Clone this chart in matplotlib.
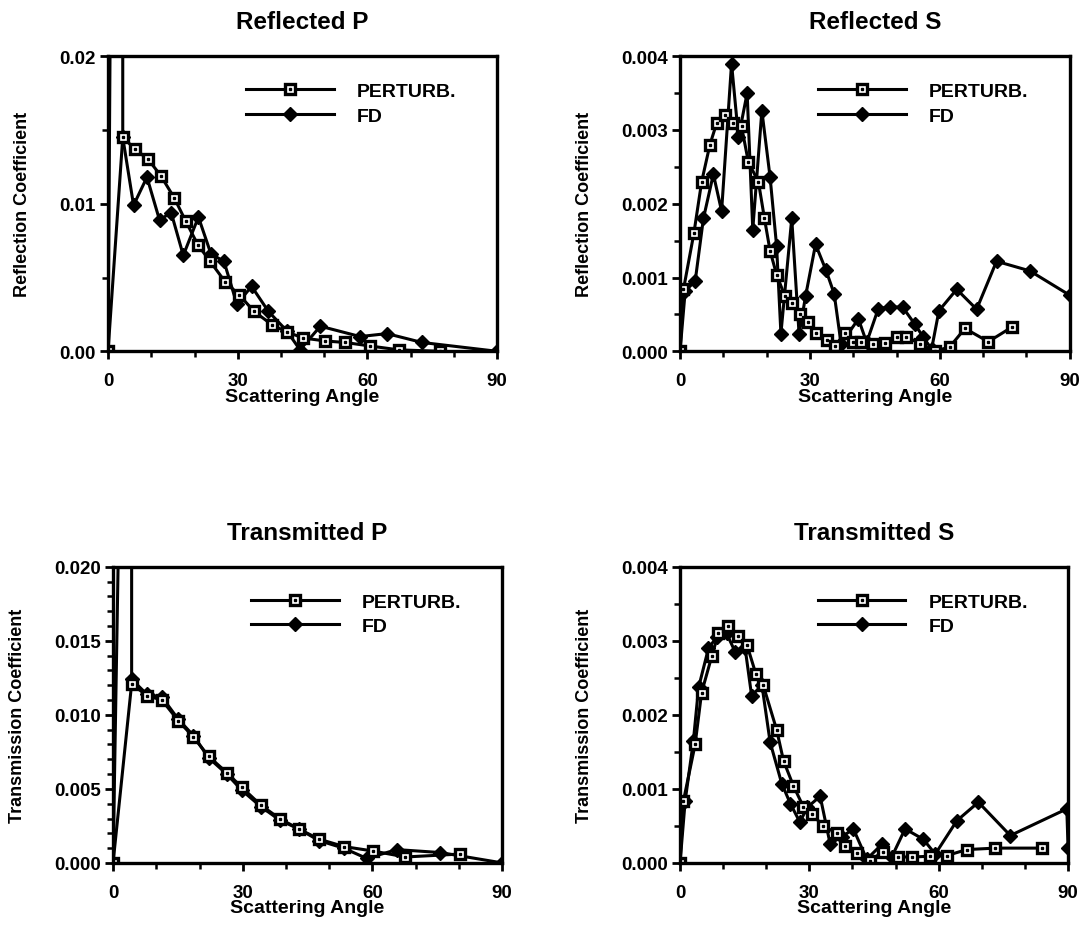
import matplotlib.pyplot as plt
from matplotlib.ticker import MultipleLocator, FormatStrFormatter

plt.rcParams['font.family'] = ['Liberation Sans', 'DejaVu Sans']
plt.rcParams['font.weight'] = 'bold'

# Reflected P
rp_pert_x = [0, 3.4, 6.25, 9.3, 12.2, 15.3, 18.0, 20.8, 23.6, 27.1, 30.4, 33.8, 37.9, 41.4, 45.2, 50.2, 54.8, 60.6, 67.2, 76.8]
rp_pert_y = [0, 0.0145, 0.0137, 0.0130, 0.0119, 0.0104, 0.0088, 0.0072, 0.0061, 0.0047, 0.0038, 0.0027, 0.0018, 0.0013, 0.0009, 0.0007, 0.0006, 0.00036, 0.0001, 0.0]
rp_fd_x = [0, 3.4, 3.4, 5.9, 9.0, 11.9, 14.6, 17.4, 20.9, 23.8, 26.8, 29.8, 33.2, 37.1, 41.3, 44.4, 49.1, 58.3, 64.5, 72.6, 90]
rp_fd_y = [0, 0.15, 0.0145, 0.0099, 0.0118, 0.0089, 0.0094, 0.0065, 0.0091, 0.0066, 0.0061, 0.0032, 0.0044, 0.0027, 0.0014, 0.0001, 0.0017, 0.0010, 0.0012, 0.0006, 0.0]

# Reflected S
rs_pert_x = [0, 0.8, 3.2, 5.0, 6.9, 8.5, 10.4, 12.3, 14.2, 15.8, 18.1, 19.5, 20.8, 22.3, 24.2, 25.8, 27.8, 29.6, 31.5, 33.9, 35.8, 38.1, 40.0, 41.9, 44.6, 47.3, 50.0, 52.3, 55.4, 58.8, 62.3, 65.8, 71.2, 76.7]
rs_pert_y = [0, 0.00084, 0.0016, 0.0023, 0.0028, 0.0031, 0.0032, 0.0031, 0.00305, 0.00256, 0.0023, 0.0018, 0.00136, 0.00104, 0.00075, 0.00065, 0.0005, 0.0004, 0.00025, 0.00016, 0.00007, 0.00025, 0.00012, 0.00012, 0.0001, 0.00011, 0.00019, 0.0002, 0.0001, 0.0, 0.00006, 0.00031, 0.00013, 0.00033]
rs_fd_x = [0, 1.2, 3.5, 5.4, 7.7, 9.6, 11.9, 13.5, 15.5, 16.8, 18.9, 20.8, 22.3, 23.3, 25.8, 27.5, 29.0, 31.3, 33.7, 35.6, 37.2, 41.2, 43.1, 45.8, 48.5, 51.4, 54.2, 56.2, 58.1, 59.8, 63.9, 68.5, 73.1, 80.8, 90]
rs_fd_y = [0, 0.00082, 0.00095, 0.0018, 0.0024, 0.0019, 0.0039, 0.0029, 0.0035, 0.00165, 0.00326, 0.00236, 0.00143, 0.00024, 0.0018, 0.00023, 0.00075, 0.00145, 0.0011, 0.00078, 0.0001, 0.00044, 0.00012, 0.00058, 0.0006, 0.0006, 0.00037, 0.00019, 0.00003, 0.00055, 0.00084, 0.00057, 0.00122, 0.00109, 0.00076]

# Transmitted P
tp_pert_x = [0, 4.3, 7.8, 11.3, 15.1, 18.6, 22.1, 26.3, 29.8, 34.2, 38.5, 42.9, 47.7, 53.5, 60.2, 67.6, 80.3]
tp_pert_y = [0, 0.0121, 0.0113, 0.0110, 0.0096, 0.0085, 0.0072, 0.0061, 0.0051, 0.0039, 0.0030, 0.0023, 0.0016, 0.0011, 0.0008, 0.0004, 0.0006]
tp_fd_x = [0, 4.3, 4.3, 7.8, 11.3, 15.1, 18.6, 22.1, 26.3, 29.8, 34.2, 38.5, 42.9, 47.7, 53.3, 58.7, 65.6, 75.7, 90]
tp_fd_y = [0, 0.074, 0.0124, 0.0114, 0.0112, 0.0097, 0.0086, 0.0071, 0.0060, 0.0049, 0.0038, 0.0029, 0.0023, 0.0015, 0.0010, 0.0003, 0.0009, 0.0007, 0.0]

# Transmitted S
ts_pert_x = [0, 0.8, 3.5, 5.0, 7.4, 8.9, 11.2, 13.5, 15.5, 17.6, 19.3, 22.4, 24.0, 26.3, 28.6, 30.6, 33.2, 36.4, 38.3, 41.0, 44.1, 47.0, 50.6, 53.8, 58.0, 61.9, 66.5, 73.1, 83.9]
ts_pert_y = [0, 0.00084, 0.0016, 0.0023, 0.0028, 0.0031, 0.0032, 0.00306, 0.00295, 0.00255, 0.0024, 0.0018, 0.00138, 0.00104, 0.00076, 0.00066, 0.0005, 0.0004, 0.00023, 0.00013, 0.00003, 0.00015, 0.00008, 0.00008, 0.00009, 0.0001, 0.00018, 0.0002, 0.0002]
ts_fd_x = [0, 1.2, 3.1, 4.3, 6.6, 8.5, 10.8, 12.8, 15.1, 16.6, 19.0, 20.9, 23.6, 25.6, 27.8, 29.5, 32.5, 34.8, 37.5, 40.2, 43.3, 46.8, 49.1, 52.2, 56.4, 59.2, 64.2, 69.2, 76.6, 89.7, 90]
ts_fd_y = [0, 0.00084, 0.00165, 0.00237, 0.0029, 0.00305, 0.0031, 0.00285, 0.0029, 0.00226, 0.0024, 0.00163, 0.00107, 0.0008, 0.00055, 0.00075, 0.0009, 0.00026, 0.00035, 0.00046, 0.00005, 0.00025, 0.00008, 0.00046, 0.00032, 0.00012, 0.00057, 0.00082, 0.00037, 0.00073, 0.0002]

panels = [
    ('Reflected P', 'Reflection Coefficient', rp_pert_x, rp_pert_y, rp_fd_x, rp_fd_y, 0.02, 0.01, 0.005, '%.2f',
     [0.0994, 0.624, 0.358, 0.315]),
    ('Reflected S', 'Reflection Coefficient', rs_pert_x, rs_pert_y, rs_fd_x, rs_fd_y, 0.004, 0.001, 0.0005, '%.3f',
     [0.6256, 0.624, 0.3585, 0.315]),
    ('Transmitted P', 'Transmission Coefficient', tp_pert_x, tp_pert_y, tp_fd_x, tp_fd_y, 0.020, 0.005, 0.001, '%.3f',
     [0.104, 0.078, 0.358, 0.316]),
    ('Transmitted S', 'Transmission Coefficient', ts_pert_x, ts_pert_y, ts_fd_x, ts_fd_y, 0.004, 0.001, 0.0005, '%.3f',
     [0.6256, 0.078, 0.357, 0.316]),
]

fig = plt.figure(figsize=(10.87, 9.37), dpi=100)

for title, ylab, px, py, fx, fy, ymax, ymaj, ymin, fmt, rect in panels:
    ax = fig.add_axes(rect)
    fd, = ax.plot(fx, fy, color='black', lw=2.2, marker='D', ms=7, mfc='black', mec='black')
    pl, = ax.plot(px, py, color='black', lw=2.2, marker='s', ms=7.5, mfc='white', mec='black', mew=2.4)
    dot, = ax.plot(px, py, ls='none', marker='s', ms=2, color='black')
    ax.set_xlim(0, 90)
    ax.set_ylim(0, ymax)
    ax.xaxis.set_major_locator(MultipleLocator(30))
    ax.xaxis.set_minor_locator(MultipleLocator(10))
    ax.yaxis.set_major_locator(MultipleLocator(ymaj))
    ax.yaxis.set_minor_locator(MultipleLocator(ymin))
    ax.yaxis.set_major_formatter(FormatStrFormatter(fmt))
    ax.tick_params(which='major', direction='out', length=6, width=2, labelsize=13.5, pad=3)
    ax.tick_params(axis='x', which='major', pad=9)
    ax.tick_params(which='minor', direction='out', length=4, width=1.8)
    for lab in ax.get_xticklabels() + ax.get_yticklabels():
        lab.set_fontweight('bold')
    for sp in ax.spines.values():
        sp.set_linewidth(2.4)
    ax.set_title(title, fontsize=17.5, fontweight='bold', pad=20)
    ax.set_xlabel('Scattering Angle', fontsize=14, fontweight='bold', labelpad=-1)
    ax.set_ylabel(ylab, fontsize=13, fontweight='bold', labelpad=20)
    leg = ax.legend([(pl, dot), fd], ['PERTURB.', 'FD'], loc='upper left',
                    bbox_to_anchor=(0.31, 0.97), frameon=False, fontsize=14,
                    handlelength=4.5, handletextpad=1.2, labelspacing=0.35, numpoints=1)
    for t in leg.get_texts():
        t.set_fontweight('bold')

fig.savefig('out.png', dpi=100)
